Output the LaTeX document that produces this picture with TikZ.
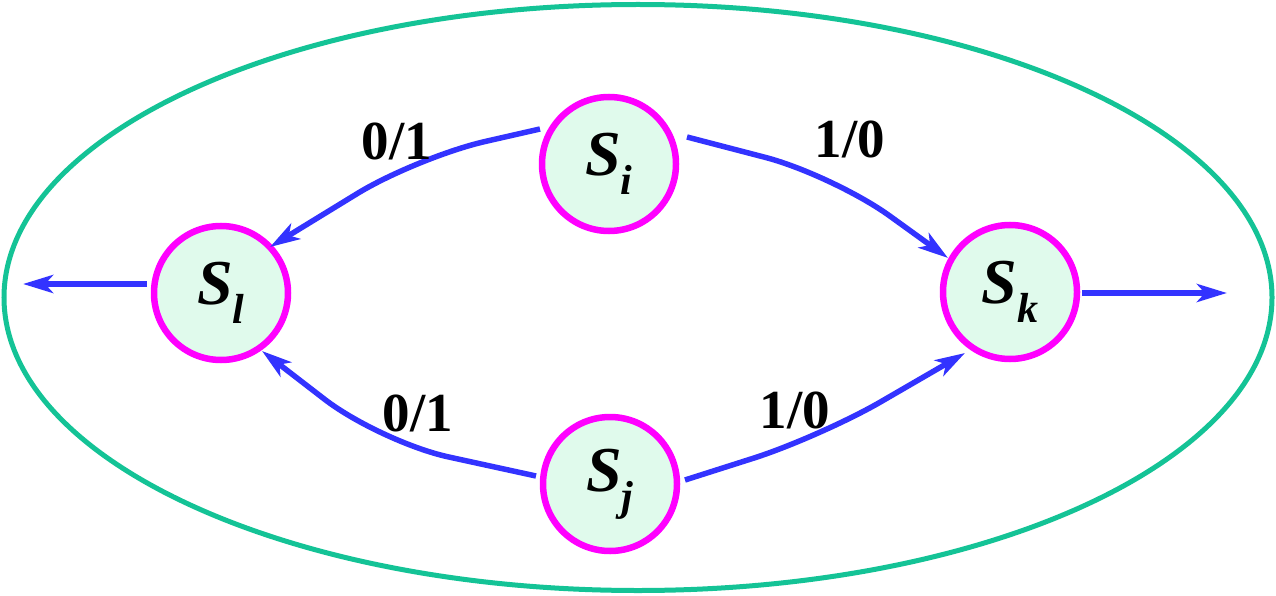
\documentclass[tikz,border=0pt]{standalone}
\usepackage{fontspec}
\setmainfont{Liberation Serif}
\usetikzlibrary{arrows.meta}
\definecolor{ellc}{RGB}{20,195,150}
\definecolor{nfill}{RGB}{224,250,236}
\definecolor{nedge}{RGB}{255,0,255}
\definecolor{arr}{RGB}{51,51,255}
\newcommand{\stname}[1]{\fontsize{64}{68}\selectfont\bfseries\itshape S\raisebox{-0.3em}{\fontsize{42}{44}\selectfont #1}}
\tikzset{
  state/.style={circle, draw=nedge, fill=nfill, line width=6.5pt, minimum size=134pt, inner sep=0pt},
  trans/.style={draw=arr, line width=5.5pt, rounded corners=70pt, -{Stealth[length=30pt,width=18pt,inset=8pt]}},
  lbl/.style={font=\fontsize{55}{58}\selectfont\bfseries, inner sep=0pt}
}
\begin{document}
\begin{tikzpicture}[x=1pt,y=-1pt]
\useasboundingbox (0,0) rectangle (1276,596);
\draw[ellc, line width=5pt] (638,297.5) ellipse [x radius=634, y radius=293];
\node[state] (si) at (609,164) {\stname{i}};
\node[state] (sl) at (221,293) {\stname{l}};
\node[state] (sk) at (1010,292) {\stname{k}};
\node[state] (sj) at (610,484) {\stname{j}};
\coordinate (outl) at (23,284);
\coordinate (outk) at (1227,293);
\coordinate (b1) at (417,157);
\coordinate (b2) at (833,175);
\coordinate (b3) at (380,442);
\coordinate (b4) at (820,437);
\draw[trans] ([shift={(-74,-9)}]sl.center) -- (outl);
\draw[trans] ([shift={(72,1)}]sk.center) -- (outk);
\draw[trans] ([shift={(-69,-35)}]si.center) -- (b1) -- ([shift={(49,-46)}]sl.center);
\draw[trans] ([shift={(78,-27)}]si.center) -- (b2) -- ([shift={(-62,-34)}]sk.center);
\draw[trans] ([shift={(-74,-8)}]sj.center) -- (b3) -- ([shift={(41,58)}]sl.center);
\draw[trans] ([shift={(75,-4)}]sj.center) -- (b4) -- ([shift={(-45,61)}]sk.center);
\node[lbl] (l1) at (397,141) {0/1};
\node[lbl] (l2) at (850,139) {1/0};
\node[lbl] (l3) at (418,413) {0/1};
\node[lbl] (l4) at (795,410) {1/0};
\end{tikzpicture}
\end{document}
